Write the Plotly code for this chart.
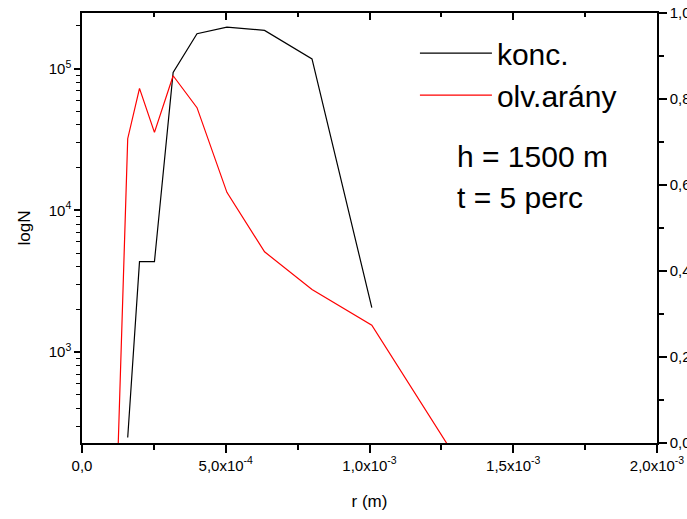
import plotly.graph_objects as go

# data
r = [1.26e-4, 1.59e-4, 2.0e-4, 2.52e-4, 3.17e-4, 4.0e-4, 5.04e-4, 6.35e-4, 8.0e-4, 1.008e-3, 1.27e-3]
konc = [None, 250, 4350, 4350, 94000, 176000, 196000, 186000, 117000, 2060, None]
olv_arany = [225, 32000, 72500, 35500, 89000, 53000, 13400, 5100, 2770, 1550, 225]

x_tickvals = [0, 5e-4, 1e-3, 1.5e-3, 2e-3]
x_ticktext = ["0,0", "5,0x10<sup>-4</sup>", "1,0x10<sup>-3</sup>", "1,5x10<sup>-3</sup>", "2,0x10<sup>-3</sup>"]
y_tickvals = [1e3, 1e4, 1e5]
y_ticktext = ["10<sup>3</sup>", "10<sup>4</sup>", "10<sup>5</sup>"]
y_minor = [k * 10 ** n for n in (2, 3, 4, 5) for k in range(2, 10)]

FONT = "Liberation Sans, Arial, sans-serif"

fig = go.Figure()
fig.add_trace(go.Scatter(x=r, y=konc, mode="lines", name="konc.",
                         line=dict(color="black", width=1.2)))
fig.add_trace(go.Scatter(x=r, y=olv_arany, mode="lines", name="olv.arány",
                         line=dict(color="#ff0000", width=1.2)))

fig.update_layout(
    width=687, height=519,
    margin=dict(l=82, r=30, t=13, b=76),
    paper_bgcolor="white", plot_bgcolor="white",
    font=dict(family=FONT, color="black", size=15),
    separators=",.",
    showlegend=True,
    legend=dict(x=0.579, y=0.967, xanchor="left", yanchor="top",
                font=dict(size=30, family=FONT), bgcolor="rgba(0,0,0,0)",
                itemwidth=72, tracegroupgap=0),
    xaxis=dict(range=[0, 2e-3], tickvals=x_tickvals, ticktext=x_ticktext,
               ticks="outside", ticklen=8, tickwidth=1.5, tickcolor="black",
               showline=True, linecolor="black", linewidth=1.5,
               showgrid=False, zeroline=False, automargin=False,
               minor=dict(dtick=2.5e-4, tick0=0, ticks="outside", ticklen=5, tickwidth=1.5, tickcolor="black"),
               title=dict(text="r (m)", font=dict(size=17), standoff=22),
               tickfont=dict(size=15)),
    yaxis=dict(type="log", range=[2.359, 5.392], tickvals=y_tickvals, ticktext=y_ticktext,
               ticks="outside", ticklen=6, tickwidth=1.5, tickcolor="black",
               showline=True, linecolor="black", linewidth=1.5,
               showgrid=False, zeroline=False, automargin=False,
               minor=dict(tickvals=y_minor, ticks="outside", ticklen=4, tickwidth=1, tickcolor="black"),
               title=dict(text="logN", font=dict(size=17), standoff=14),
               tickfont=dict(size=15)),
    xaxis2=dict(overlaying="x", side="top", range=[0, 2e-3], dtick=5e-4, tick0=0,
                ticks="inside", ticklen=7, tickwidth=1.5, tickcolor="black",
                showticklabels=False, showline=True, linecolor="black", linewidth=1.5,
                showgrid=False, zeroline=False, automargin=False,
                minor=dict(dtick=2.5e-4, tick0=0, ticks="inside", ticklen=4, tickwidth=1.5, tickcolor="black")),
    yaxis2=dict(overlaying="y", side="right", range=[0, 1], dtick=0.2, tick0=0, tickformat=".1f",
                ticks="outside", ticklen=8, tickwidth=1.5, tickcolor="black",
                showline=True, linecolor="black", linewidth=1.5,
                showgrid=False, zeroline=False, automargin=False,
                minor=dict(dtick=0.1, tick0=0, ticks="outside", ticklen=5, tickwidth=1.5, tickcolor="black"),
                tickfont=dict(size=15)),
)

fig.add_trace(go.Scatter(x=[None], y=[None], xaxis="x2", yaxis="y2", showlegend=False, hoverinfo="skip"))

fig.add_annotation(text="h = 1500 m", xref="paper", yref="paper", x=0.649, y=0.667,
                   xanchor="left", yanchor="middle", showarrow=False, font=dict(size=30, family=FONT))
fig.add_annotation(text="t = 5 perc", xref="paper", yref="paper", x=0.649, y=0.571,
                   xanchor="left", yanchor="middle", showarrow=False, font=dict(size=30, family=FONT))

fig.write_html("out.html")
